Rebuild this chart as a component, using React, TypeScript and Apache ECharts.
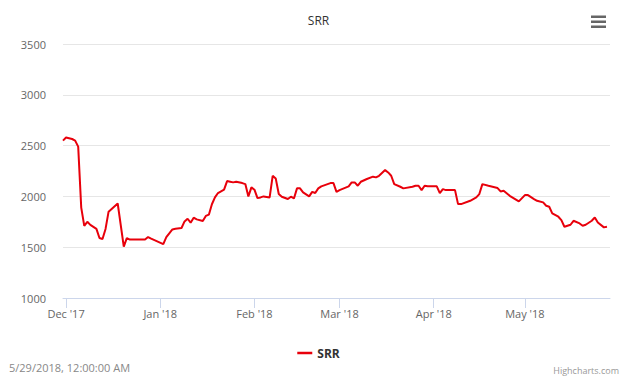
import React, { useEffect, useRef } from "react";
import * as echarts from "echarts";

const chartTitle = "SRR";
const seriesName = "SRR";

const dates = [
  "2017-11-30", "2017-12-01", "2017-12-03", "2017-12-04", "2017-12-05", "2017-12-06", "2017-12-07",
  "2017-12-08", "2017-12-09", "2017-12-11", "2017-12-12", "2017-12-13", "2017-12-14", "2017-12-15",
  "2017-12-18", "2017-12-20", "2017-12-21", "2017-12-22", "2017-12-27", "2017-12-28", "2017-12-29",
  "2018-01-02", "2018-01-03", "2018-01-05", "2018-01-06", "2018-01-08", "2018-01-09", "2018-01-10",
  "2018-01-11", "2018-01-12", "2018-01-13", "2018-01-15", "2018-01-16", "2018-01-17", "2018-01-18",
  "2018-01-19", "2018-01-20", "2018-01-22", "2018-01-23", "2018-01-24", "2018-01-25", "2018-01-26",
  "2018-01-28", "2018-01-29", "2018-01-30", "2018-01-31",
  "2018-02-01", "2018-02-02", "2018-02-03", "2018-02-04", "2018-02-06", "2018-02-07", "2018-02-08",
  "2018-02-09", "2018-02-10", "2018-02-12", "2018-02-13", "2018-02-14", "2018-02-15", "2018-02-16",
  "2018-02-17", "2018-02-19", "2018-02-20", "2018-02-21", "2018-02-22", "2018-02-23", "2018-02-26",
  "2018-02-27", "2018-02-28",
  "2018-03-01", "2018-03-04", "2018-03-05", "2018-03-06", "2018-03-07", "2018-03-08", "2018-03-10",
  "2018-03-12", "2018-03-13", "2018-03-14", "2018-03-16", "2018-03-17", "2018-03-18", "2018-03-19",
  "2018-03-21", "2018-03-22", "2018-03-25", "2018-03-26", "2018-03-27", "2018-03-28", "2018-03-29",
  "2018-03-30",
  "2018-04-02", "2018-04-03", "2018-04-04", "2018-04-05", "2018-04-08", "2018-04-09", "2018-04-10",
  "2018-04-13", "2018-04-15", "2018-04-16", "2018-04-17", "2018-04-19", "2018-04-22", "2018-04-23",
  "2018-04-24", "2018-04-26", "2018-04-29",
  "2018-05-01", "2018-05-02", "2018-05-04", "2018-05-05", "2018-05-07", "2018-05-08", "2018-05-09",
  "2018-05-10", "2018-05-12", "2018-05-13", "2018-05-14", "2018-05-16", "2018-05-17", "2018-05-19",
  "2018-05-20", "2018-05-21", "2018-05-23", "2018-05-24", "2018-05-25", "2018-05-27", "2018-05-28",
];

const values = [
  2549, 2579, 2565, 2549, 2490, 1890, 1710,
  1750, 1720, 1680, 1590, 1580, 1680, 1850,
  1930, 1505, 1590, 1575, 1575, 1600, 1584,
  1531, 1600, 1675, 1682, 1689, 1754, 1780,
  1741, 1790, 1774, 1758, 1808, 1820, 1923,
  1990, 2033, 2066, 2151, 2145, 2138, 2145,
  2131, 2121, 2000, 2089,
  2066, 1983, 1990, 2000, 1990, 2203, 2177,
  2023, 1997, 1974, 1997, 1980, 2079, 2079,
  2039, 2000, 2045, 2033, 2079, 2099, 2131,
  2131, 2045,
  2062, 2099, 2138, 2138, 2105, 2144, 2171,
  2194, 2187, 2203, 2259, 2236, 2203, 2121,
  2095, 2079, 2095, 2105, 2105, 2062, 2105,
  2099,
  2099, 2033, 2072, 2062, 2062, 1924, 1924,
  1957, 1990, 2023, 2121, 2105, 2082, 2049,
  2056, 2006, 1951,
  2013, 2013, 1974, 1957, 1941, 1908, 1898,
  1833, 1800, 1767, 1701, 1721, 1760, 1734,
  1711, 1721, 1760, 1793, 1744, 1695, 1701,
];

const tickDates = ["2017-12-01", "2018-01-01", "2018-02-01", "2018-03-01", "2018-04-01", "2018-05-01"];
const tickLabels = ["Dec '17", "Jan '18", "Feb '18", "Mar '18", "Apr '18", "May '18"];
const axisStart = "2017-11-30";
const axisEnd = "2018-05-29";
const yMin = 1000;
const yMax = 3500;
const yStep = 500;
const footerDate = "5/29/2018, 12:00:00 AM";
const creditsText = "Highcharts.com";

function toTime(s: string): number {
  const [y, m, d] = s.split("-").map(Number);
  return Date.UTC(y, m - 1, d);
}

const FONT = "'Open Sans', 'DejaVu Sans', sans-serif";

export default function App() {
  const ref = useRef<HTMLDivElement>(null);

  useEffect(() => {
    document.body.style.margin = "0";
    if (!ref.current) return;
    const chart = echarts.init(ref.current, undefined, { renderer: "svg" });
    const tickTimes = tickDates.map(toTime);
    const seriesData = dates.map((d, i) => [toTime(d), values[i]]);

    chart.setOption({
      animation: false,
      backgroundColor: "#ffffff",
      textStyle: { fontFamily: FONT },
      title: {
        text: chartTitle,
        left: "center",
        top: 9,
        textStyle: { fontSize: 12, fontWeight: "normal", color: "#333333", fontFamily: FONT },
      },
      legend: {
        data: [seriesName],
        left: "center",
        top: 342,
        icon: "rect",
        itemWidth: 15,
        itemHeight: 2.5,
        itemGap: 6,
        textStyle: { fontSize: 12, fontWeight: "bold", color: "#333333", fontFamily: FONT },
      },
      grid: { left: 63, right: 27, top: 44, bottom: 86, containLabel: false },
      xAxis: {
        type: "value",
        min: toTime(axisStart),
        max: toTime(axisEnd),
        scale: true,
        axisLine: { show: true, onZero: false, lineStyle: { color: "#ccd6eb", width: 1 } },
        axisTick: {
          show: true,
          length: 10,
          lineStyle: { color: "#ccd6eb" },
          customValues: tickTimes,
        },
        splitLine: { show: false },
        axisLabel: {
          customValues: tickTimes,
          color: "#666666",
          fontSize: 11,
          margin: 10,
          fontFamily: FONT,
          showMinLabel: true,
          showMaxLabel: true,
          formatter: (val: number) => {
            let best = 0;
            let bestDiff = Infinity;
            tickTimes.forEach((t, i) => {
              const diff = Math.abs(t - val);
              if (diff < bestDiff) { bestDiff = diff; best = i; }
            });
            return tickLabels[best];
          },
        },
      },
      yAxis: {
        type: "value",
        min: yMin,
        max: yMax,
        interval: yStep,
        axisLine: { show: false },
        axisTick: { show: false },
        splitLine: { show: true, lineStyle: { color: "#e6e6e6", width: 1 } },
        axisLabel: {
          color: "#666666",
          fontSize: 11,
          margin: 17,
          fontFamily: FONT,
          formatter: (v: number) => String(v),
        },
      },
      series: [
        {
          name: seriesName,
          type: "line",
          data: seriesData,
          showSymbol: false,
          symbol: "none",
          smooth: false,
          itemStyle: { color: "#e8000b" },
          lineStyle: { color: "#e8000b", width: 2 },
        },
      ],
      graphic: [
        { type: "rect", left: 591, top: 15.5, shape: { width: 15, height: 2.5 }, style: { fill: "#666666" } },
        { type: "rect", left: 591, top: 20.5, shape: { width: 15, height: 2.5 }, style: { fill: "#666666" } },
        { type: "rect", left: 591, top: 25.5, shape: { width: 15, height: 2.5 }, style: { fill: "#666666" } },
        {
          type: "text",
          left: 9,
          top: 362,
          style: { text: footerDate, fontSize: 11, fill: "#888888", fontFamily: FONT },
        },
        {
          type: "text",
          right: 18,
          top: 366,
          style: { text: creditsText, fontSize: 9, fill: "#999999", fontFamily: FONT },
        },
      ],
    });

    return () => chart.dispose();
  }, []);

  return <div ref={ref} style={{ width: 637, height: 384 }} />;
}
